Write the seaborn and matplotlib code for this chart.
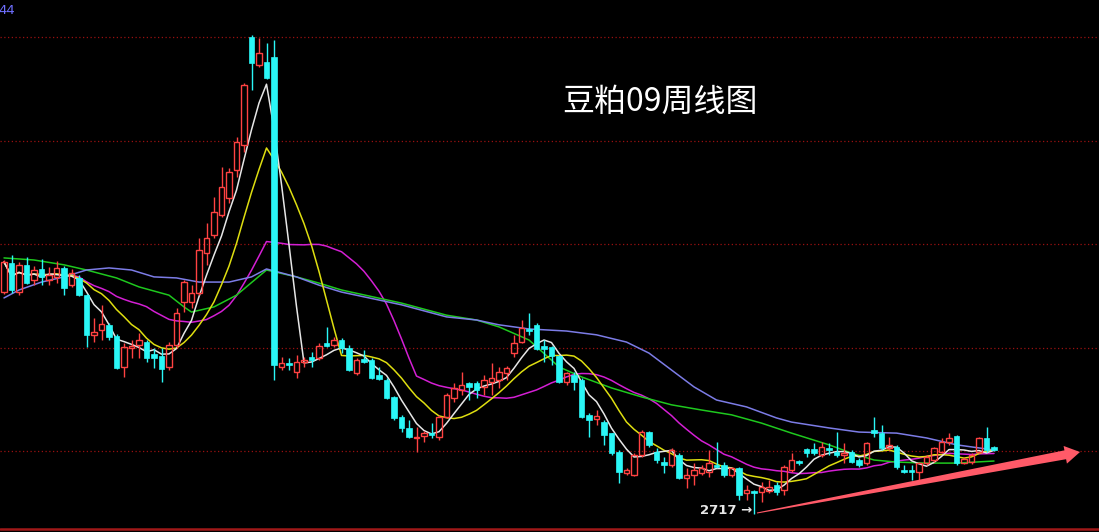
import numpy as np
import pandas as pd
import matplotlib
matplotlib.use("Agg")
import matplotlib.pyplot as plt
from matplotlib.patches import Polygon
import seaborn as sns

# weekly candles of soybean meal 09
opens = [3361, 3445, 3361, 3439, 3396, 3428, 3396, 3405, 3431, 3381,
         3402, 3352, 3237, 3251, 3266, 3234, 3144, 3199, 3208, 3216,
         3181, 3176, 3144, 3208, 3332, 3332, 3358, 3474, 3527, 3585,
         3634, 3715, 3788, 4101, 4020, 4028, 4043, 3144, 3155, 3129,
         3158, 3173, 3170, 3213, 3208, 3222, 3199, 3126, 3167, 3164,
         3120, 3106, 3057, 2999, 2967, 2938, 2944, 2952, 2941, 2999,
         3054, 3077, 3097, 3097, 3086, 3100, 3106, 3126, 3184, 3216,
         3254, 3266, 3205, 3202, 3176, 3100, 3120, 3106, 3005, 2993,
         2984, 2952, 2897, 2836, 2831, 2889, 2955, 2897, 2868, 2860,
         2889, 2822, 2831, 2836, 2839, 2860, 2860, 2831, 2851, 2778,
         2784, 2781, 2784, 2802, 2787, 2845, 2871, 2906, 2906, 2889,
         2909, 2897, 2889, 2897, 2874, 2865, 2961, 2952, 2909, 2912,
         2845, 2845, 2839, 2865, 2874, 2897, 2926, 2944, 2865, 2868,
         2897, 2938, 2912]
highs = [3454, 3468, 3448, 3463, 3437, 3457, 3434, 3451, 3437, 3428,
         3410, 3355, 3286, 3324, 3271, 3239, 3213, 3222, 3242, 3222,
         3199, 3199, 3216, 3315, 3396, 3381, 3518, 3561, 3637, 3724,
         3721, 3811, 3967, 4107, 4098, 4083, 4092, 3173, 3170, 3179,
         3173, 3187, 3213, 3260, 3231, 3228, 3208, 3170, 3193, 3170,
         3144, 3112, 3060, 3005, 2990, 2970, 2958, 2981, 3005, 3068,
         3097, 3129, 3100, 3103, 3120, 3155, 3144, 3147, 3237, 3280,
         3300, 3271, 3222, 3205, 3179, 3129, 3129, 3112, 3010, 3019,
         2990, 2952, 2903, 2851, 2894, 2961, 2958, 2909, 2883, 2909,
         2894, 2851, 2865, 2860, 2903, 2926, 2868, 2854, 2854, 2802,
         2787, 2810, 2816, 2810, 2860, 2894, 2874, 2909, 2923, 2926,
         2923, 2955, 2923, 2903, 2880, 2926, 2999, 2976, 2941, 2918,
         2860, 2860, 2868, 2889, 2912, 2938, 2952, 2947, 2883, 2894,
         2941, 2970, 2915]
lows = [3355, 3358, 3352, 3384, 3381, 3381, 3381, 3387, 3352, 3376,
        3350, 3202, 3216, 3222, 3222, 3138, 3115, 3170, 3170, 3158,
        3141, 3100, 3135, 3199, 3303, 3315, 3352, 3439, 3518, 3579,
        3619, 3695, 3767, 3947, 4014, 3980, 3106, 3135, 3135, 3112,
        3144, 3144, 3164, 3202, 3202, 3184, 3132, 3120, 3155, 3109,
        3106, 3051, 2990, 2955, 2938, 2897, 2926, 2938, 2932, 2996,
        3042, 3062, 3048, 3054, 3062, 3062, 3083, 3106, 3173, 3213,
        3237, 3193, 3158, 3150, 3097, 3091, 3077, 2996, 2941, 2976,
        2918, 2889, 2807, 2831, 2828, 2883, 2912, 2865, 2836, 2854,
        2819, 2793, 2802, 2831, 2825, 2851, 2825, 2825, 2758, 2758,
        2717, 2752, 2778, 2772, 2772, 2839, 2860, 2883, 2889, 2883,
        2889, 2883, 2865, 2865, 2854, 2860, 2941, 2903, 2903, 2848,
        2836, 2816, 2816, 2860, 2868, 2894, 2918, 2860, 2862, 2862,
        2894, 2897, 2900]
closes = [3448, 3367, 3439, 3387, 3425, 3405, 3410, 3431, 3373, 3416,
          3352, 3237, 3245, 3268, 3231, 3141, 3202, 3205, 3222, 3170,
          3170, 3138, 3208, 3300, 3390, 3358, 3483, 3518, 3593, 3666,
          3709, 3796, 3962, 4025, 4054, 3982, 3150, 3155, 3150, 3158,
          3164, 3164, 3205, 3205, 3222, 3199, 3135, 3164, 3158, 3112,
          3109, 3054, 2996, 2967, 2941, 2941, 2952, 2947, 2999, 3062,
          3083, 3091, 3086, 3077, 3106, 3112, 3129, 3141, 3213, 3257,
          3248, 3196, 3196, 3176, 3100, 3126, 3100, 2999, 2990, 3002,
          2947, 2894, 2839, 2845, 2889, 2955, 2918, 2874, 2860, 2903,
          2822, 2831, 2845, 2851, 2865, 2854, 2831, 2851, 2772, 2787,
          2778, 2796, 2796, 2781, 2854, 2874, 2865, 2894, 2894, 2912,
          2903, 2889, 2894, 2868, 2860, 2923, 2952, 2909, 2918, 2854,
          2839, 2839, 2865, 2883, 2909, 2926, 2938, 2865, 2877, 2889,
          2938, 2903, 2903]

# the two slow averages, read at sampled weeks
green_week = [0, 4, 8, 11, 15, 18, 22, 24, 25, 28, 31, 35, 39, 42, 45, 53, 59, 63,
              66, 70, 74, 77, 81, 85, 89, 93, 97, 101, 105, 110, 113, 116, 119,
              123, 127, 132]
green_val = [3460, 3454, 3440, 3425, 3402, 3376, 3352, 3318, 3303, 3318, 3352,
             3425, 3405, 3387, 3367, 3329, 3294, 3280, 3260, 3222, 3144, 3115,
             3083, 3057, 3034, 3019, 3005, 2981, 2952, 2918, 2894, 2874, 2868,
             2865, 2865, 2871]
blue_week = [0, 2, 5, 8, 11, 14, 17, 20, 23, 26, 30, 33, 35, 39, 42, 45, 53, 59,
             63, 66, 70, 75, 79, 83, 86, 89, 92, 95, 99, 103, 105, 110, 114, 119,
             123, 127, 132]
blue_val = [3344, 3367, 3390, 3405, 3425, 3431, 3425, 3405, 3402, 3390, 3390,
            3405, 3428, 3405, 3381, 3361, 3324, 3289, 3280, 3266, 3254, 3248,
            3237, 3216, 3184, 3135, 3086, 3048, 3028, 2996, 2984, 2967, 2955,
            2952, 2938, 2918, 2903]

grid_levels = [2900, 3200, 3500, 3800, 4100]
title = "豆粕09周线图"
low_label = "2717"

RED = "#ff4242"
CYAN = "#2af6f6"

sns.set_theme(style="dark")
plt.rcParams["font.family"] = ["Noto Sans CJK SC", "DejaVu Sans"]

W, H = 1099, 532
fig = plt.figure(figsize=(W / 100, H / 100), dpi=100, facecolor="black")
ax = fig.add_axes([0, 0, 1, 1])
ax.set_facecolor("black")

df = pd.DataFrame({"open": opens, "high": highs, "low": lows, "close": closes})
df["week"] = np.arange(len(df))
df["ma5"] = df["close"].rolling(5, min_periods=1).mean()
df["ma10"] = df["close"].rolling(10, min_periods=1).mean()
df["ma20"] = df["close"].rolling(20, min_periods=1).mean()

# moving averages
sns.lineplot(data=df, x="week", y="ma20", color="#d41fd4", lw=1.1, ax=ax, zorder=2)
sns.lineplot(x=green_week, y=green_val, color="#1ec81e", lw=1.1, ax=ax, zorder=2)
sns.lineplot(x=blue_week, y=blue_val, color="#7c7ce6", lw=1.1, ax=ax, zorder=2)
sns.lineplot(data=df, x="week", y="ma10", color="#dede10", lw=1.1, ax=ax, zorder=3)
sns.lineplot(data=df, x="week", y="ma5", color="#e6e6e6", lw=1.1, ax=ax, zorder=3)

# candles
bw = 0.68
up = df[df["close"] >= df["open"]]
dn = df[df["close"] < df["open"]]
body_top = up[["open", "close"]].max(axis=1)
body_bot = up[["open", "close"]].min(axis=1)
ax.vlines(up["week"], body_top, up["high"], color=RED, lw=1, zorder=4)
ax.vlines(up["week"], up["low"], body_bot, color=RED, lw=1, zorder=4)
ax.bar(up["week"], np.maximum(body_top - body_bot, 4), bottom=body_bot, width=bw,
       facecolor="none", edgecolor=RED, linewidth=1, zorder=4)
ax.vlines(dn["week"], dn["low"], dn["high"], color=CYAN, lw=1, zorder=4)
ax.bar(dn["week"], np.maximum(dn["open"] - dn["close"], 4), bottom=dn["close"], width=bw,
       facecolor=CYAN, edgecolor=CYAN, linewidth=0.5, zorder=4)

# price scale: week i sits at pixel 4 + 7.5 i, 2.9 points per pixel
ax.set_xlim(-4 / 7.5, (W - 4) / 7.5)
ax.set_ylim(4208 - 2.9 * H, 4208)
ax.set_yticks(grid_levels)
ax.set_xticks([])
ax.set_xlabel("")
ax.set_ylabel("")
ax.grid(False)
for g in grid_levels:
    ax.axhline(g, color="#9a1010", lw=0.9, ls=(0, (1, 2)), zorder=1)
ax.axhline(4208 - 2.9 * 529, color="#a01818", lw=1.8, zorder=1)
ax.tick_params(left=False, labelleft=False, bottom=False)
for s in ax.spines.values():
    s.set_visible(False)


def px(x, y):
    return x / W, 1 - y / H


ax.text(*px(660, 102), title, transform=ax.transAxes, color="white",
        fontsize=23, ha="center", va="center")
ax.text(*px(-2, 10), "44", transform=ax.transAxes, color="#6f6fff",
        fontsize=9.5, ha="left", va="center", family=["DejaVu Sans"])
ax.text(*px(752, 510), low_label + " →", transform=ax.transAxes, color="#e8e8e8",
        fontsize=9.5, fontweight="bold", ha="right", va="center", family=["DejaVu Sans"])

# red trend arrow
tail = np.array([757.0, 513.0])
tip = np.array([1080.0, 452.0])
u = (tip - tail) / np.linalg.norm(tip - tail)
n = np.array([-u[1], u[0]])
base = tip - 15 * u
pts = [tail + 0.5 * n, base + 4.5 * n, base + 9 * n, tip,
       base - 9 * n, base - 4.5 * n, tail - 0.5 * n]
ax.add_patch(Polygon([px(*p) for p in pts], closed=True, transform=ax.transAxes,
                     facecolor="#ff5a68", edgecolor="none", zorder=6))

fig.savefig("out.png", dpi=100, facecolor="black")
